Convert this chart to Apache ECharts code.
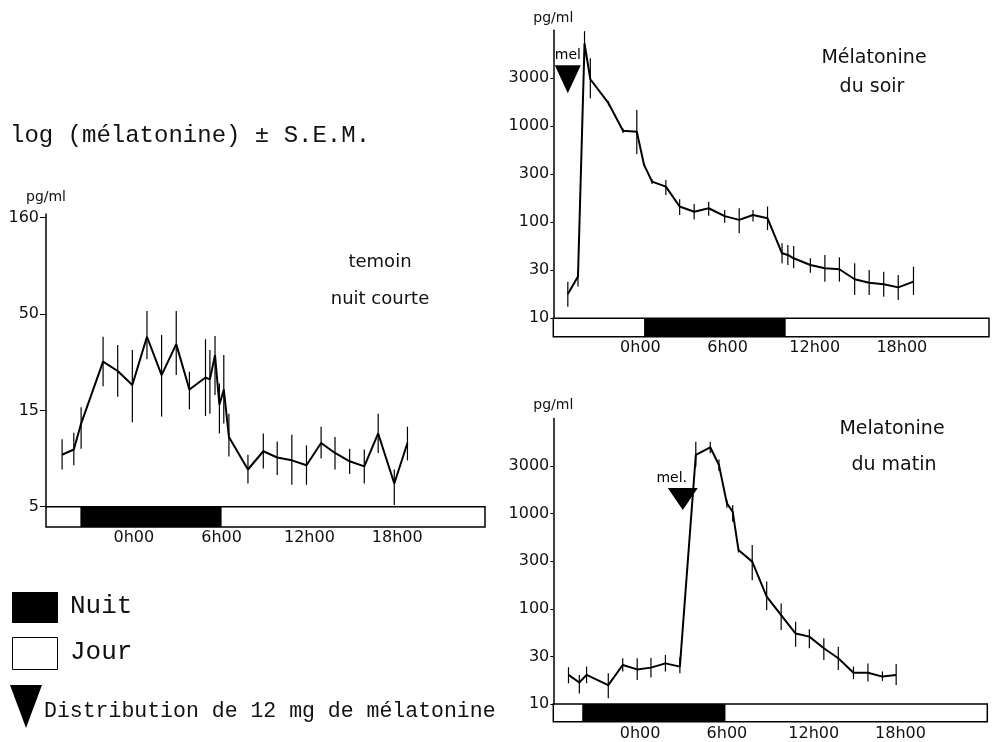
<!DOCTYPE html>
<html>
<head>
<meta charset="utf-8">
<title>log (mélatonine) ± S.E.M.</title>
<script src="https://cdn.jsdelivr.net/npm/echarts@6/dist/echarts.min.js"></script>
<style>
  html, body { margin: 0; padding: 0; background: #fff; }
  #main { width: 994px; height: 742px; }
</style>
</head>
<body>
<div id="main"></div>
<script>
// heures (0 = minuit), valeurs en pg/ml, barres d'erreur ± SEM
var temoinHours  = [-4.9, -4.1, -3.6, -2.1, -1.1, -0.1, 0.9, 1.9, 2.9, 3.8, 4.9, 5.2, 5.55, 5.85, 6.15, 6.5, 7.8, 8.85, 9.8, 10.8, 11.8, 12.8, 13.75, 14.75, 15.75, 16.7, 17.8, 18.7];
var temoinValues = [9.3, 9.9, 13.5, 28.3, 25.3, 21.4, 38.1, 24.1, 34.9, 20.3, 23.4, 22.9, 30.6, 16.9, 20.3, 11.5, 7.8, 9.7, 9.0, 8.7, 8.2, 10.7, 9.5, 8.6, 8.1, 12.0, 6.6, 10.7];
var temoinLow    = [7.8, 8.2, 10.0, 21.1, 18.6, 13.7, 29.1, 14.7, 24.1, 16.0, 14.8, 15.2, 19.0, 12.0, 13.5, 9.1, 6.6, 7.9, 7.3, 6.5, 6.5, 8.9, 7.8, 7.4, 6.6, 9.5, 5.1, 8.7];
var temoinHigh   = [11.2, 12.1, 16.4, 38.1, 34.5, 32.5, 51.8, 38.9, 51.8, 25.1, 37.0, 32.5, 38.4, 21.8, 30.6, 15.2, 9.3, 12.0, 10.9, 11.8, 10.4, 13.0, 11.5, 10.0, 9.9, 15.2, 7.8, 13.0];
var temoinNight  = [-3.65, 6.0];

var soirHours  = [-5.0, -4.3, -3.85, -3.45, -2.2, -1.2, -0.25, 0.25, 0.8, 1.75, 2.7, 3.7, 4.7, 5.8, 6.8, 7.75, 8.75, 9.75, 10.15, 10.55, 11.7, 12.7, 13.7, 14.75, 15.75, 16.75, 17.75, 18.8];
var soirValues = [17.9, 27.2, 7300, 3090, 1740, 900, 880, 396, 265, 235, 146, 129, 140, 116, 106, 119, 110, 47.5, 45.7, 42.2, 35.9, 33.2, 32.4, 25.5, 23.5, 22.6, 21.0, 24.1];
var soirLow    = [13.2, 21.4, 4910, 1960, 1650, 850, 515, 385, 250, 193, 119, 107, 117, 99, 77, 102, 83, 37.4, 36.0, 33.2, 29.9, 24.1, 24.1, 17.5, 17.5, 16.8, 15.5, 17.5];
var soirHigh   = [24.1, 30.6, 9800, 5100, 1830, 950, 1480, 408, 280, 276, 174, 155, 164, 134, 140, 134, 146, 60.4, 58.0, 56.7, 42.2, 45.7, 43.2, 37.4, 31.8, 30.6, 28.3, 34.5];
var soirNight  = [0.25, 10.0];
var soirDose   = [-5.0, 3100];

var matinHours  = [-4.95, -4.2, -3.7, -2.2, -1.2, -0.2, 0.75, 1.75, 2.75, 3.85, 4.85, 5.45, 6.0, 6.4, 6.8, 7.75, 8.75, 9.75, 10.75, 11.7, 12.7, 13.7, 14.75, 15.75, 16.75, 17.7];
var matinValues = [20.2, 16.8, 20.2, 15.8, 25.7, 23.1, 24.1, 26.7, 24.7, 4130, 4970, 3240, 1280, 1050, 415, 313, 134, 86, 55, 51, 38.5, 30.2, 21.3, 21.3, 19.4, 20.2];
var matinLow    = [16.5, 12.9, 16.5, 11.5, 21.9, 17.9, 19.0, 21.9, 21.0, 3110, 4300, 2800, 1150, 820, 390, 200, 97, 60, 40, 38.5, 29.0, 22.8, 18.2, 17.2, 17.5, 15.8];
var matinHigh   = [24.3, 20.2, 24.7, 21.0, 30.2, 30.2, 30.5, 32.7, 31.0, 5700, 5700, 3700, 1400, 1230, 440, 468, 193, 114, 73, 61, 49.0, 40.0, 24.7, 26.7, 22.0, 26.3];
var matinNight  = [-4.0, 5.9];
var matinDose   = [2.95, 1420];

// graduations
var hourTicks = [0, 6, 12, 18];
var leftTicks = [5, 15.81, 50, 158.1];
var leftTickLabels = ['5', '15', '50', '160'];
var rightTicks = [10, 31.62, 100, 316.2, 1000, 3162];
var rightTickLabels = ['10', '30', '100', '300', '1000', '3000'];

var SANS = '"DejaVu Sans", sans-serif';
var MONO = '"Liberation Mono", monospace';

function pairs(xs, ys) {
    return xs.map(function (x, i) { return [x, ys[i]]; });
}
function errs(xs, lo, hi) {
    return xs.map(function (x, i) { return [x, lo[i], hi[i]]; });
}
function tickFormatter(ticks, labels) {
    return function (v) {
        for (var i = 0; i < ticks.length; i++) {
            if (Math.abs(v - ticks[i]) / ticks[i] < 0.01) return labels[i];
        }
        return '';
    };
}

function renderErr(params, api) {
    var p1 = api.coord([api.value(0), api.value(1)]);
    var p2 = api.coord([api.value(0), api.value(2)]);
    return {
        type: 'line',
        shape: { x1: p1[0], y1: p1[1], x2: p2[0], y2: p2[1] },
        style: { stroke: '#000', lineWidth: 1.2 }
    };
}
function renderNight(params, api) {
    var a = api.coord([api.value(0), 1]);
    var b = api.coord([api.value(1), 0]);
    return {
        type: 'rect',
        shape: { x: a[0], y: a[1], width: b[0] - a[0], height: b[1] - a[1] },
        style: { fill: '#000' }
    };
}

function plotGrid(left, top, width, height) {
    return { left: left, top: top, width: width, height: height, outerBoundsMode: 'none', containLabel: false };
}
function bandGrid(left, top, width, height) {
    return {
        left: left, top: top, width: width, height: height, outerBoundsMode: 'none', containLabel: false,
        show: true, backgroundColor: '#fff', borderColor: '#000', borderWidth: 1.5
    };
}

function hiddenX(gi) {
    return { gridIndex: gi, type: 'value', min: -6, max: 24, show: false };
}
function hourX(gi, margin) {
    return {
        gridIndex: gi, type: 'value', min: -6, max: 24,
        axisLine: { show: false }, axisTick: { show: false }, splitLine: { show: false },
        axisLabel: {
            customValues: hourTicks, margin: margin, fontSize: 16, color: '#111', fontFamily: SANS,
            formatter: function (v) { return v + 'h00'; }
        }
    };
}
function logY(gi, min, max, ticks, labels, nameGap, margin, tickLen) {
    return {
        gridIndex: gi, type: 'log', min: min, max: max,
        name: 'pg/ml', nameLocation: 'end', nameGap: nameGap,
        nameTextStyle: { fontSize: 14, color: '#111', fontFamily: SANS, align: 'center' },
        axisLine: { show: true, onZero: false, lineStyle: { color: '#000', width: 1.5 } },
        axisTick: { show: true, customValues: ticks, length: tickLen, lineStyle: { color: '#000', width: 1 } },
        axisLabel: {
            customValues: ticks, margin: margin, fontSize: 16, color: '#111', fontFamily: SANS,
            formatter: tickFormatter(ticks, labels)
        },
        splitLine: { show: false }
    };
}
function bandY(gi) {
    return { gridIndex: gi, type: 'value', min: 0, max: 1, show: false };
}

function lineSeries(ai, data) {
    return {
        type: 'line', xAxisIndex: ai, yAxisIndex: ai, data: data,
        symbol: 'none', lineStyle: { color: '#000', width: 2 }, z: 3
    };
}
function errSeries(ai, data) {
    return {
        type: 'custom', xAxisIndex: ai, yAxisIndex: ai, data: data,
        renderItem: renderErr, encode: { x: 0, y: [1, 2] }, z: 2
    };
}
function nightSeries(ai, night) {
    return {
        type: 'custom', xAxisIndex: ai, yAxisIndex: ai, data: [night],
        renderItem: renderNight, encode: { x: [0, 1] }
    };
}
function doseSeries(ai, dose, text, size, offset) {
    return {
        type: 'scatter', xAxisIndex: ai, yAxisIndex: ai, data: [dose],
        symbol: 'triangle', symbolRotate: 180, symbolSize: size,
        itemStyle: { color: '#000', opacity: 1 },
        label: {
            show: true, formatter: text, position: 'top', distance: 3, offset: offset,
            fontSize: 14, color: '#000', opacity: 1, fontFamily: SANS
        },
        z: 4
    };
}

function label(x, y, text, size, family) {
    return {
        type: 'text', x: x, y: y,
        style: {
            text: text, fontSize: size, fontFamily: family, fill: '#111',
            align: 'center', verticalAlign: 'middle', textAlign: 'center', textVerticalAlign: 'middle'
        }
    };
}
function leftLabel(x, y, text, size, family) {
    return {
        type: 'text', x: x, y: y,
        style: {
            text: text, fontSize: size, fontFamily: family, fill: '#111',
            align: 'left', verticalAlign: 'middle', textAlign: 'left', textVerticalAlign: 'middle'
        }
    };
}

var chart = echarts.init(document.getElementById('main'));

var option = {
    animation: false,
    backgroundColor: '#fff',
    grid: [
        plotGrid(46, 214.1, 439, 292.6),
        bandGrid(46, 506.7, 439, 20.3),
        plotGrid(553.3, 30.3, 435.7, 288),
        bandGrid(553.3, 318.3, 435.7, 18.4),
        plotGrid(553.3, 418.4, 434, 285.6),
        bandGrid(553.3, 704, 434, 17.7)
    ],
    xAxis: [
        hiddenX(0), hourX(1, 3),
        hiddenX(2), hourX(3, 3),
        hiddenX(4), hourX(5, 4)
    ],
    yAxis: [
        logY(0, 5, 165, leftTicks, leftTickLabels, 10, 7, 6), bandY(1),
        logY(2, 10, 10000, rightTicks, rightTickLabels, 5, 4, 3), bandY(3),
        logY(4, 10, 10000, rightTicks, rightTickLabels, 6, 4, 3), bandY(5)
    ],
    series: [
        errSeries(0, errs(temoinHours, temoinLow, temoinHigh)),
        lineSeries(0, pairs(temoinHours, temoinValues)),
        nightSeries(1, temoinNight),

        errSeries(2, errs(soirHours, soirLow, soirHigh)),
        lineSeries(2, pairs(soirHours, soirValues)),
        doseSeries(2, soirDose, 'mel', [26, 28], [0, 0]),
        nightSeries(3, soirNight),

        errSeries(4, errs(matinHours, matinLow, matinHigh)),
        lineSeries(4, pairs(matinHours, matinValues)),
        doseSeries(4, matinDose, 'mel.', [30, 22], [-11, 0]),
        nightSeries(5, matinNight)
    ],
    graphic: [
        leftLabel(10, 136, 'log (mélatonine) ± S.E.M.', 24, MONO),

        label(380, 262, 'temoin', 18, SANS),
        label(380, 299, 'nuit courte', 18, SANS),
        label(874, 58, 'Mélatonine', 19, SANS),
        label(872, 87, 'du soir', 19, SANS),
        label(892, 429, 'Melatonine', 19, SANS),
        label(894, 465, 'du matin', 19, SANS),

        // légende
        { type: 'rect', shape: { x: 12, y: 592, width: 46, height: 31 }, style: { fill: '#000' } },
        { type: 'rect', shape: { x: 12.5, y: 637.5, width: 45, height: 32 }, style: { fill: '#fff', stroke: '#000', lineWidth: 1 } },
        { type: 'polygon', shape: { points: [[10, 685], [42, 685], [26, 728]] }, style: { fill: '#000' } },
        leftLabel(70, 606, 'Nuit', 26, MONO),
        leftLabel(70, 652, 'Jour', 26, MONO),
        leftLabel(44, 711, 'Distribution de 12 mg de mélatonine', 21.5, MONO)
    ]
};

chart.setOption(option);
</script>
</body>
</html>
